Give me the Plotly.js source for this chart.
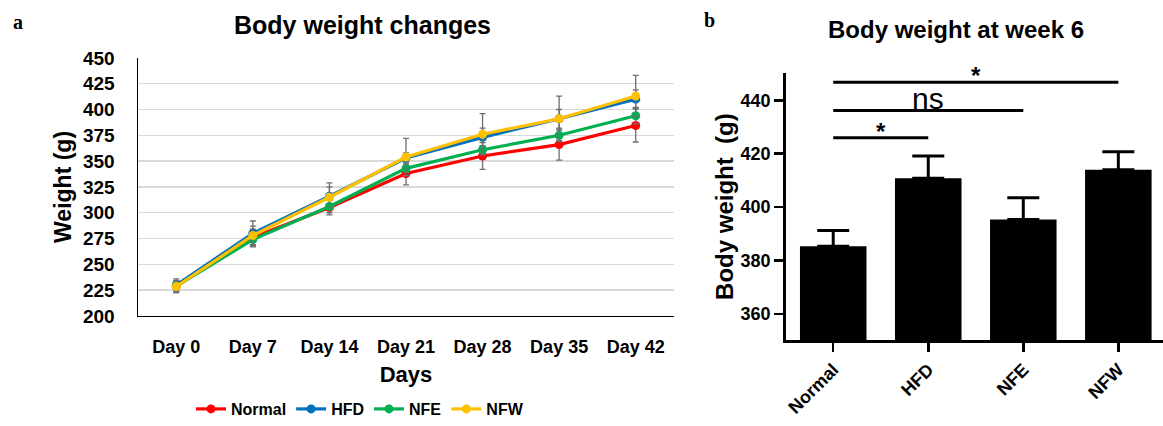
<!DOCTYPE html>
<html>
<head>
<meta charset="utf-8">
<script src="https://cdn.plot.ly/plotly-3.0.1.min.js"></script>
<style>html,body{margin:0;padding:0;background:#fff;}#chart{width:1163px;height:426px;}</style>
</head>
<body>
<div id="chart"></div>
<script>
// ---- Panel a: body weight changes over time ----
const days = ["Day 0", "Day 7", "Day 14", "Day 21", "Day 28", "Day 35", "Day 42"];
const seriesNames = ["Normal", "HFD", "NFE", "NFW"];
const normalWeight = [229, 276, 305, 338, 355, 366, 384.5];
const hfdWeight    = [230, 280, 316, 353, 373, 391, 410];
const nfeWeight    = [229, 274, 306, 343, 361, 375, 394];
const nfwWeight    = [228.5, 278, 315, 354, 376, 391, 413];
const normalErr = [5, 8, 7, 11, 13, 15, 16];
const hfdErr    = [6, 12, 13, 5, 9, 9, 9];
const nfeErr    = [5, 7, 6, 4, 4, 5, 8];
const nfwErr    = [6, 9, 10, 18, 20, 22, 20];
const seriesColors = ["#ff0000", "#0070c0", "#00b050", "#ffc000"];
const weightTicks = [200, 225, 250, 275, 300, 325, 350, 375, 400, 425, 450];

// ---- Panel b: body weight at week 6 ----
const groups = ["Normal", "HFD", "NFE", "NFW"];
const week6Weight = [385.3, 410.8, 395.3, 414];
const week6Err = [5.9, 8.3, 8.2, 6.7];
const week6Ticks = [360, 380, 400, 420, 440];
// significance comparisons: from group index, to group index, bracket level (g), label
const compFrom  = [0, 0, 0];
const compTo    = [1, 2, 3];
const compLevel = [426, 436.2, 446.8];
const compLabel = ["*", "ns", "*"];

const W = 1163, H = 426;
const px = v => v / W;
const py = v => 1 - v / H;

const arial = "Liberation Sans, Arial, sans-serif";
const bold = (size) => ({family: arial, size: size, color: "#000", weight: "bold"});

const lineData = [normalWeight, hfdWeight, nfeWeight, nfwWeight];
const lineErr = [normalErr, hfdErr, nfeErr, nfwErr];

const traces = seriesNames.map((name, i) => ({
  type: "scatter",
  mode: "lines+markers",
  name: name,
  x: days,
  y: lineData[i],
  xaxis: "x",
  yaxis: "y",
  line: {color: seriesColors[i], width: 3.2},
  marker: {color: seriesColors[i], size: 9},
  error_y: {type: "data", array: lineErr[i], visible: true, color: "#6f6f6f", thickness: 1.3, width: 3},
  cliponaxis: false
}));

traces.push({
  type: "bar",
  name: "Week 6",
  x: groups,
  y: week6Weight,
  xaxis: "x2",
  yaxis: "y2",
  showlegend: false,
  marker: {color: "#000000", line: {width: 0}},
  error_y: {type: "data", symmetric: false, array: week6Err, arrayminus: week6Err.map(() => 0),
            visible: true, color: "#000000", thickness: 3, width: 16}
});

const shapes = compFrom.map((f, i) => ({
  type: "line", xref: "x2", yref: "y2",
  x0: f, x1: compTo[i], y0: compLevel[i], y1: compLevel[i],
  line: {color: "#000", width: 3}
}));

const annotations = [
  {text: "Body weight changes", x: px(362), y: py(25), xref: "paper", yref: "paper",
   xanchor: "center", yanchor: "middle", showarrow: false, font: bold(25)},
  {text: "Body weight at week 6", x: px(956), y: py(30), xref: "paper", yref: "paper",
   xanchor: "center", yanchor: "middle", showarrow: false, font: bold(24)},
  {text: "a", x: px(18), y: py(22), xref: "paper", yref: "paper",
   xanchor: "center", yanchor: "middle", showarrow: false,
   font: {family: "Liberation Serif, Times New Roman, serif", size: 20, color: "#000", weight: "bold"}},
  {text: "b", x: px(709), y: py(20), xref: "paper", yref: "paper",
   xanchor: "center", yanchor: "middle", showarrow: false,
   font: {family: "Liberation Serif, Times New Roman, serif", size: 20, color: "#000", weight: "bold"}}
];
compFrom.forEach((f, i) => {
  const isNs = compLabel[i] === "ns";
  annotations.push({
    text: compLabel[i],
    x: (f + compTo[i]) / 2, y: compLevel[i], xref: "x2", yref: "y2",
    xanchor: "center", yanchor: "bottom", showarrow: false,
    yshift: isNs ? -6 : -9,
    font: isNs ? {family: arial, size: 30, color: "#000"} : bold(24)
  });
});

const layout = {
  width: W, height: H,
  margin: {l: 0, r: 0, t: 0, b: 0},
  paper_bgcolor: "#fff", plot_bgcolor: "rgba(0,0,0,0)",
  showlegend: true,
  legend: {orientation: "h", x: px(360), y: py(417), xanchor: "center", yanchor: "middle",
           font: bold(16), itemwidth: 30, tracegroupgap: 0,
           bgcolor: "rgba(0,0,0,0)"},
  bargap: 0.3,
  xaxis: {
    domain: [px(138), px(674)], anchor: "y", type: "category",
    range: [-0.5, 6.5], showline: true, linecolor: "#000", linewidth: 1.5,
    ticks: "", showgrid: false, zeroline: false,
    tickfont: bold(18), ticklabelstandoff: 14,
    title: {text: "Days", font: bold(22), standoff: 10},
    fixedrange: true
  },
  yaxis: {
    domain: [py(322), py(59)], anchor: "x",
    range: [200, 450], tickvals: weightTicks, showline: true, linecolor: "#000", linewidth: 1.5,
    ticks: "", showgrid: true, gridcolor: "#d9d9d9", gridwidth: 1.5, zeroline: false,
    tickfont: bold(19), ticklabelstandoff: 18,
    title: {text: "Weight (g)", font: bold(23), standoff: 5},
    fixedrange: true
  },
  xaxis2: {
    domain: [px(785.7), 1], anchor: "y2", type: "category",
    range: [-0.5, 3.47], showline: true, linecolor: "#000", linewidth: 2.5,
    ticks: "outside", ticklen: 9, tickwidth: 2.5, tickcolor: "#000",
    showgrid: false, zeroline: false, tickangle: -45,
    tickfont: bold(18),
    fixedrange: true
  },
  yaxis2: {
    domain: [py(347), py(74)], anchor: "x2",
    range: [350, 450.4], tickvals: week6Ticks,
    showline: true, linecolor: "#000", linewidth: 2.5,
    ticks: "outside", ticklen: 9, tickwidth: 2.5, tickcolor: "#000",
    showgrid: false, zeroline: false,
    tickfont: bold(18),
    title: {text: "Body weight  (g)", font: bold(24), standoff: 0},
    fixedrange: true
  },
  shapes: shapes,
  annotations: annotations
};

Plotly.newPlot("chart", traces, layout, {displayModeBar: false, staticPlot: true});
</script>
</body>
</html>
